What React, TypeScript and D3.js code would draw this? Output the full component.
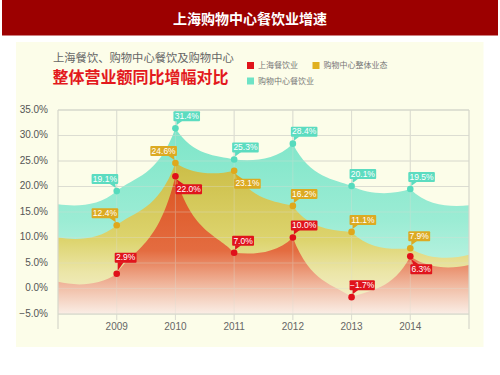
import React from "react";
import * as d3 from "d3";

// ---- data ----
const years = [2009, 2010, 2011, 2012, 2013, 2014];
const shanghaiDining = [2.9, 22.0, 7.0, 10.0, -1.7, 6.3];
const mallOverall = [12.4, 24.6, 23.1, 16.2, 11.1, 7.9];
const mallDining = [19.1, 31.4, 25.3, 28.4, 20.1, 19.5];
// values where each band meets the left / right frame
const shanghaiEdges = [1.3, 4.6];
const mallOverallEdges = [10.0, 6.6];
const mallDiningEdges = [16.5, 16.3];
const yTicks = [-5, 0, 5, 10, 15, 20, 25, 30, 35];
const seriesNames = ["上海餐饮业", "购物中心整体业态", "购物中心餐饮业"];

// label placement (style)
const shanghaiPlace = ["aboveL2", "below", "aboveL", "aboveL", "aboveL", "below"];
const overallPlace = ["aboveR", "aboveR", "below", "aboveL", "aboveL", "aboveL"];
const diningPlace = ["aboveR", "aboveL", "aboveL", "aboveL", "aboveL", "aboveL"];

const W = 500;
const H = 375;
const x = d3.scaleLinear().domain([2008, 2015]).range([58, 469]);
const y = d3.scaleLinear().domain([-5, 35]).range([314, 110]);
const fmt = d3.format(".1f");

function bandPath(vals: number[], edges: number[]) {
  const xs = [2008, ...years, 2015];
  const vs = [edges[0], ...vals, edges[1]];
  const p = d3.path();
  p.moveTo(x(xs[0]), y(vs[0]));
  for (let i = 0; i < xs.length - 1; i++) {
    const x0 = x(xs[i]);
    const x1 = x(xs[i + 1]);
    const v0 = vs[i];
    const v1 = vs[i + 1];
    const lo = Math.min(v0, v1);
    const hi = Math.max(v0, v1);
    const lvl = lo + 0.34 * (hi - lo) - 1.37;
    const a = 0.3;
    const dx = x1 - x0;
    p.bezierCurveTo(x0 + a * dx, y(lvl), x1 - a * dx, y(lvl), x1, y(v1));
  }
  p.lineTo(x(2015), y(-5));
  p.lineTo(x(2008), y(-5));
  p.closePath();
  return p.toString();
}

function textWidth(s: string, fs: number) {
  let w = 0;
  for (const c of s) {
    if (c === ".") w += 0.278;
    else if (c === "%") w += 0.889;
    else if (c === "-" || c === "−") w += 0.4;
    else w += 0.556;
  }
  return w * fs;
}

function Label({ v, year, place, color }: { v: number; year: number; place: string; color: string }) {
  const px = x(year);
  const py = y(v);
  const txt = fmt(v) + "%";
  const fs = 8.5;
  const w = textWidth(txt, fs) + 2.5;
  const h = 10;
  let bx = 0, by = 0, tail = "";
  if (place === "aboveL" || place === "aboveL2") {
    const gap = place === "aboveL2" ? 11 : 7;
    bx = px - 2;
    by = py - gap - h;
    tail = `${bx + 3},${by + h - 0.5} ${bx + 9},${by + h - 0.5} ${px + 1},${py - 3}`;
  } else if (place === "aboveR") {
    bx = px + 1.5 - w;
    by = py - 7 - h;
    tail = `${bx + w - 9},${by + h - 0.5} ${bx + w - 3},${by + h - 0.5} ${px - 1},${py - 3}`;
  } else {
    bx = px;
    by = py + 8;
    tail = `${bx + 3},${by + 0.5} ${bx + 9},${by + 0.5} ${px + 1},${py + 3}`;
  }
  return (
    <g>
      <polygon points={tail} fill={color} />
      <rect x={bx} y={by} width={w} height={h} fill={color} rx={1} />
      <text
        x={bx + w / 2}
        y={by + h / 2 + 0.5}
        textAnchor="middle"
        dominantBaseline="middle"
        fontSize={fs}
        fill="#fff"
        fontFamily="'Liberation Sans', Arial, sans-serif"
      >
        {txt}
      </text>
    </g>
  );
}

const series = [
  { vals: mallDining, edges: mallDiningEdges, grad: "gTeal", marker: "#56dbbd", box: "#5cdcc0", place: diningPlace },
  { vals: mallOverall, edges: mallOverallEdges, grad: "gYellow", marker: "#dfa81c", box: "#dcaa22", place: overallPlace },
  { vals: shanghaiDining, edges: shanghaiEdges, grad: "gRed", marker: "#e0101a", box: "#e0141c", place: shanghaiPlace },
];

export default function App() {
  const grid = (
    <g stroke="#dcddd2" strokeWidth={1} fill="none">
      {yTicks.map((t) => (
        <line key={"h" + t} x1={x(2008)} x2={x(2015)} y1={y(t)} y2={y(t)} />
      ))}
      {years.map((yr) => (
        <line key={"v" + yr} x1={x(yr)} x2={x(yr)} y1={y(35)} y2={320} />
      ))}
    </g>
  );
  return (
    <div style={{ position: "fixed", left: 0, top: 0 }}>
      <svg width={W} height={H} viewBox={`0 0 ${W} ${H}`} style={{ display: "block", background: "#fff" }}>
        <defs>
          <linearGradient id="gTeal" gradientUnits="userSpaceOnUse" x1={0} x2={0} y1={y(32)} y2={y(-5)}>
            <stop offset="0" stopColor="#7ce5c8" />
            <stop offset="0.5" stopColor="#9becd4" />
            <stop offset="1" stopColor="#d8f8ec" />
          </linearGradient>
          <linearGradient id="gYellow" gradientUnits="userSpaceOnUse" x1={0} x2={0} y1={y(25)} y2={y(-5)}>
            <stop offset="0" stopColor="#cbbd46" />
            <stop offset="0.52" stopColor="#ddd46e" />
            <stop offset="0.72" stopColor="#ebe5a6" />
            <stop offset="1" stopColor="#f7f4d8" />
          </linearGradient>
          <linearGradient id="gRed" gradientUnits="userSpaceOnUse" x1={0} x2={0} y1={y(22)} y2={y(-5)}>
            <stop offset="0" stopColor="#dc5522" />
            <stop offset="0.54" stopColor="#e46c40" />
            <stop offset="0.83" stopColor="#f2c4ae" />
            <stop offset="1" stopColor="#faeee6" />
          </linearGradient>
        </defs>

        {/* header */}
        <rect x={2} y={0} width={496} height={35.5} fill="#9c0000" />
        <text
          x={250}
          y={20}
          textAnchor="middle"
          dominantBaseline="middle"
          fontSize={14}
          fontWeight="bold"
          fill="#fff"
          fontFamily="'Noto Sans CJK SC', sans-serif"
        >
          上海购物中心餐饮业增速
        </text>

        {/* panel */}
        <rect x={16} y={42} width={467.5} height={305} fill="#fcfde9" />

        {/* titles */}
        <text x={53} y={59} dominantBaseline="middle" fontSize={11.3} fill="#666" fontFamily="'Noto Sans CJK SC', sans-serif">
          上海餐饮、购物中心餐饮及购物中心
        </text>
        <text x={52.5} y={78.5} dominantBaseline="middle" fontSize={16} fontWeight="bold" fill="#e3191d" fontFamily="'Noto Sans CJK SC', sans-serif">
          整体营业额同比增幅对比
        </text>

        {/* legend */}
        {[
          { c: "#e0141c", lx: 247, ly: 62, t: seriesNames[0] },
          { c: "#e0b020", lx: 312.5, ly: 62, t: seriesNames[1] },
          { c: "#6ee3c6", lx: 247, ly: 77.5, t: seriesNames[2] },
        ].map((l) => (
          <g key={l.t}>
            <rect x={l.lx} y={l.ly} width={7} height={7} fill={l.c} />
            <text
              x={l.lx + 11}
              y={l.ly + 4}
              dominantBaseline="middle"
              fontSize={8}
              fill="#777"
              fontFamily="'Noto Sans CJK SC', sans-serif"
            >
              {l.t}
            </text>
          </g>
        ))}

        {grid}

        {/* areas */}
        {series.map((s) => (
          <path key={s.grad} d={bandPath(s.vals, s.edges)} fill={`url(#${s.grad})`} />
        ))}

        {/* faint grid over areas */}
        <g opacity={0.35}>{grid}</g>

        {/* frame */}
        <g stroke="#d6d7cc" strokeWidth={1.2} fill="none">
          <line x1={x(2008)} x2={x(2008)} y1={y(35)} y2={329} />
          <line x1={x(2015)} x2={x(2015)} y1={y(35)} y2={329} />
          <line x1={x(2008)} x2={x(2015)} y1={y(35)} y2={y(35)} />
          <line x1={x(2008)} x2={x(2015)} y1={y(-5)} y2={y(-5)} />
        </g>

        {/* y axis labels */}
        {yTicks.map((t) => (
          <text
            key={"yl" + t}
            x={48}
            y={y(t)}
            textAnchor="end"
            dominantBaseline="middle"
            fontSize={10}
            fill="#555"
            fontFamily="'Liberation Sans', Arial, sans-serif"
          >
            {fmt(t) + "%"}
          </text>
        ))}
        {/* x axis labels */}
        {years.map((yr) => (
          <text
            key={"xl" + yr}
            x={x(yr)}
            y={327}
            textAnchor="middle"
            dominantBaseline="middle"
            fontSize={10}
            fill="#666"
            fontFamily="'Liberation Sans', Arial, sans-serif"
          >
            {yr}
          </text>
        ))}

        {/* markers and labels */}
        {series.map((s) => (
          <g key={"m" + s.grad}>
            {s.vals.map((v, i) => (
              <circle key={i} cx={x(years[i])} cy={y(v)} r={3.3} fill={s.marker} />
            ))}
          </g>
        ))}
        {series.map((s) => (
          <g key={"l" + s.grad}>
            {s.vals.map((v, i) => (
              <Label key={i} v={v} year={years[i]} place={s.place[i]} color={s.box} />
            ))}
          </g>
        ))}
      </svg>
    </div>
  );
}
